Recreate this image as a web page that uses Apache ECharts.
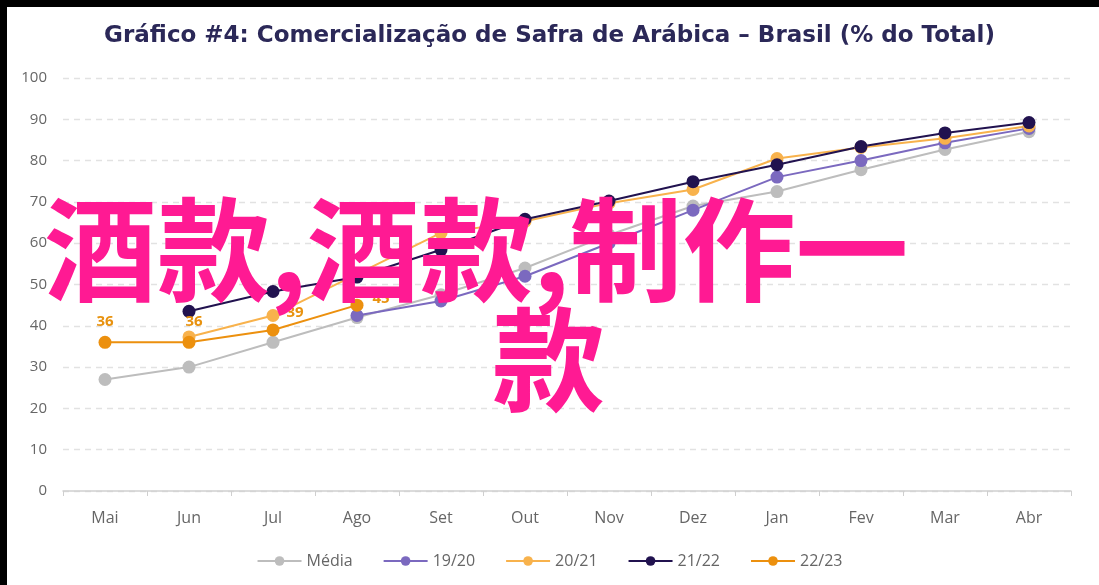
<!DOCTYPE html>
<html>
<head>
<meta charset="utf-8">
<script src="https://cdn.jsdelivr.net/npm/echarts@6/dist/echarts.min.js"></script>
<style>
  html, body { margin: 0; padding: 0; background: #fff; }
  #chart { width: 1099px; height: 585px; }
</style>
</head>
<body>
<div id="chart"></div>
<script>
const months = ['Mai', 'Jun', 'Jul', 'Ago', 'Set', 'Out', 'Nov', 'Dez', 'Jan', 'Fev', 'Mar', 'Abr'];

const media = [27, 30, 36, 42, 47.5, 54, 62, 69, 72.5, 77.8, 82.7, 87];
const safra1920 = [null, null, null, 42.5, 46, 52, 60, 68, 76, 80, 84.3, 87.8];
const safra2021 = [null, 37.3, 42.5, 52.5, 62.5, 65.3, 69.7, 73, 80.5, 83.2, 85.4, 88.4];
const safra2122 = [null, 43.5, 48.3, 51.8, 58.4, 65.8, 70.2, 74.9, 79, 83.4, 86.7, 89.2];
const safra2223 = [36, 36, 39, 45];

const overlayLines = ['酒款,酒款,制作一', '款'];

const grey = '#666';

// label placement for the 22/23 points
const labelPlace = [
  { position: 'top', offset: [0, -2] },
  { position: 'top', offset: [5, -2] },
  { position: 'top', offset: [22, 2] },
  { position: 'right', offset: [4, -6] },
];

function lineSeries(name, data, color, extra) {
  return Object.assign({
    name,
    type: 'line',
    data,
    symbol: 'circle',
    symbolSize: 13,
    connectNulls: false,
    lineStyle: { width: 2, color },
    itemStyle: { color },
    emphasis: { disabled: true },
  }, extra || {});
}

const chart = echarts.init(document.getElementById('chart'));

chart.setOption({
  animation: false,
  title: {
    text: 'Gráfico #4: Comercialização de Safra de Arábica – Brasil (% do Total)',
    left: 'center',
    top: 20,
    textStyle: {
      fontFamily: 'DejaVu Sans',
      fontWeight: 'bold',
      fontSize: 23,
      color: '#2b2858',
    },
  },
  grid: { left: 63, right: 28, top: 78, bottom: 94 },
  legend: {
    bottom: 11,
    left: 'center',
    itemWidth: 44,
    itemHeight: 12,
    itemGap: 30,
    textStyle: { color: grey, fontSize: 16, fontFamily: 'Open Sans' },
    data: ['Média', '19/20', '20/21', '21/22', '22/23'],
  },
  xAxis: {
    type: 'category',
    data: months,
    boundaryGap: true,
    axisLine: { lineStyle: { color: '#cfcfcf', width: 1.5 } },
    axisTick: { show: true, lineStyle: { color: '#cfcfcf' }, length: 5 },
    axisLabel: { color: grey, fontSize: 16, margin: 19, fontFamily: 'Open Sans' },
  },
  yAxis: {
    type: 'value',
    min: 0,
    max: 100,
    interval: 10,
    axisLine: { show: false },
    axisTick: { show: false },
    axisLabel: { color: grey, fontSize: 15, margin: 16, fontFamily: 'Open Sans' },
    splitLine: { lineStyle: { type: [6, 5], color: '#e2e2e2', width: 1.3 } },
  },
  series: [
    lineSeries('Média', media, '#bdbdbd'),
    lineSeries('19/20', safra1920, '#7b69bf'),
    lineSeries('20/21', safra2021, '#f8b24c'),
    lineSeries('21/22', safra2122, '#21124f'),
    lineSeries('22/23', safra2223.map((v, i) => ({
      value: v,
      label: Object.assign({ show: true }, labelPlace[i]),
    })), '#ec900e', {
      label: {
        color: '#e8920f',
        fontSize: 15,
        fontWeight: 'bold',
        fontFamily: 'Open Sans',
      },
    }),
  ],
  graphic: [
    {
      type: 'text',
      left: 44,
      top: 193,
      z: 100,
      style: {
        text: overlayLines[0],
        fontSize: 113,
        fontWeight: 'bold',
        fontFamily: 'Noto Sans CJK SC',
        fill: '#ff1a93',
      },
    },
    {
      type: 'text',
      left: 492,
      top: 303,
      z: 100,
      style: {
        text: overlayLines[1],
        fontSize: 113,
        fontWeight: 'bold',
        fontFamily: 'Noto Sans CJK SC',
        fill: '#ff1a93',
      },
    },
    {
      type: 'rect',
      left: 0,
      top: 0,
      z: 101,
      shape: { width: 1099, height: 585 },
      style: { fill: 'none', stroke: '#000', lineWidth: 7 },
    },
  ],
});
</script>
</body>
</html>
